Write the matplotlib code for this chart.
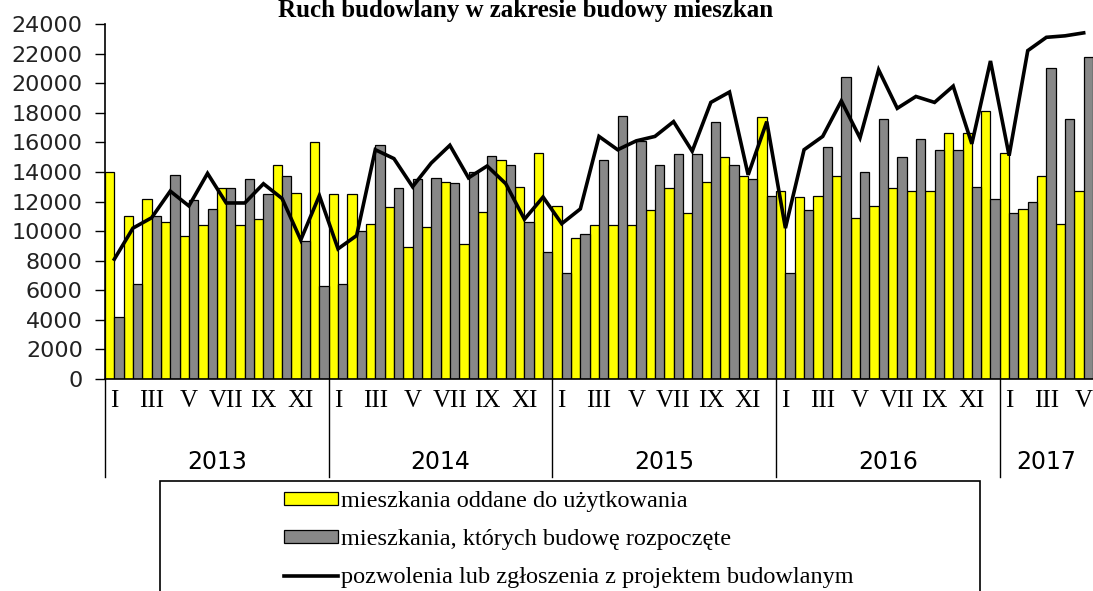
import numpy as np
import matplotlib
matplotlib.use("Agg")
from matplotlib import pyplot as plt
from matplotlib.patches import Rectangle
from matplotlib.transforms import blended_transform_factory


# monthly data, I.2013 - V.2017
years = ["2013", "2014", "2015", "2016", "2017"]
month_labels = ["I", "", "III", "", "V", "", "VII", "", "IX", "", "XI", ""]

oddane = [14000, 11000, 12200, 10600, 9700, 10400, 12900, 10400, 10800, 14500, 12600, 16000,
          12500, 12500, 10500, 11600, 8900, 10300, 13300, 9100, 11300, 14800, 13000, 15300,
          11700, 9500, 10400, 10400, 10400, 11400, 12900, 11200, 13300, 15000, 13700, 17700,
          12700, 12300, 12400, 13700, 10900, 11700, 12900, 12700, 12700, 16600, 16600, 18100,
          15300, 11500, 13700, 10500, 12700]

rozpoczete = [4200, 6450, 11000, 13800, 12100, 11500, 12900, 13500, 12500, 13700, 9350, 6300,
              6450, 10000, 15800, 12900, 13500, 13600, 13250, 14000, 15100, 14500, 10600, 8600,
              7200, 9800, 14800, 17800, 16100, 14500, 15200, 15200, 17400, 14500, 13500, 12400,
              7200, 11400, 15700, 20400, 14000, 17600, 15000, 16200, 15500, 15500, 13000, 12200,
              11200, 12000, 21000, 17600, 21800]

pozwolenia = [8100, 10200, 10900, 12700, 11700, 13900, 11900, 11900, 13200, 12200, 9400, 12400,
              8800, 9700, 15500, 14900, 13000, 14600, 15800, 13600, 14400, 13200, 10800, 12300,
              10500, 11500, 16400, 15500, 16100, 16400, 17400, 15400, 18700, 19400, 13800, 17400,
              10200, 15500, 16400, 18800, 16300, 20900, 18300, 19100, 18700, 19800, 15900, 21500,
              15100, 22200, 23100, 23200, 23400]

n = len(oddane)
x = np.arange(n)

fig = plt.figure(figsize=(10.93, 5.91), dpi=100)
ax = fig.add_axes([105 / 1093, 212 / 591, 1 - 105 / 1093, 355 / 591])

b1 = ax.bar(x - 0.25, oddane, width=0.5, color="#ffff00", edgecolor="black", linewidth=0.9,
            label="mieszkania oddane do użytkowania", zorder=2)
b2 = ax.bar(x + 0.25, rozpoczete, width=0.5, color="#888888", edgecolor="black", linewidth=0.9,
            label="mieszkania, których budowę rozpoczęte", zorder=2)
l1, = ax.plot(x, pozwolenia, color="black", linewidth=2.6, solid_joinstyle="miter",
              label="pozwolenia lub zgłoszenia z projektem budowlanym", zorder=3)

ax.set_xlim(-0.5, n - 0.5)
ax.set_ylim(0, 24000)
ax.set_yticks(np.arange(0, 24001, 2000))
ax.tick_params(axis="y", direction="out", length=7, width=1, pad=9, labelsize=16)
for t in ax.get_yticklabels():
    t.set_color("#222222")

labels = [month_labels[i % 12] for i in range(n)]
ax.set_xticks(x[::2])
ax.set_xticklabels(labels[::2], family="Liberation Serif", fontsize=18)
ax.tick_params(axis="x", length=0, pad=8)

for s in ["top", "right"]:
    ax.spines[s].set_visible(False)
ax.spines["left"].set_linewidth(1.2)
ax.spines["bottom"].set_linewidth(1.2)

# year separators and year labels
tr = blended_transform_factory(ax.transData, ax.transAxes)
for b in np.arange(-0.5, n, 12):
    ax.plot([b, b], [0, -0.276], color="black", linewidth=1, transform=tr, clip_on=False)
for i, yr in enumerate(years):
    start = i * 12 - 0.5
    end = min(start + 12, n - 0.5)
    ax.text((start + end) / 2, -0.235, yr, transform=tr, ha="center", va="center",
            fontsize=17, family=["Liberation Sans Narrow", "DejaVu Sans"])

fig.text(526 / 1093, 1 - 10 / 591, "Ruch budowlany w zakresie budowy mieszkan",
         ha="center", va="center", fontsize=18, fontweight="bold", family="Liberation Serif")

# legend box (cut off by the bottom edge)
fig.patches.append(Rectangle((160 / 1093, -0.05), 820 / 1093, (591 - 481) / 591 + 0.05,
                             transform=fig.transFigure, facecolor="white", edgecolor="black",
                             linewidth=1.2))
fig.legend([b1, b2, l1], [b1.get_label(), b2.get_label(), l1.get_label()],
           loc="upper left", bbox_to_anchor=(272 / 1093, 1 - 479 / 591),
           frameon=False, prop={"family": "Liberation Serif", "size": 17.5},
           handlelength=2.2, handleheight=0.4, handletextpad=0.15, labelspacing=0.7,
           borderpad=0)

fig.savefig("out.png", dpi=100)
